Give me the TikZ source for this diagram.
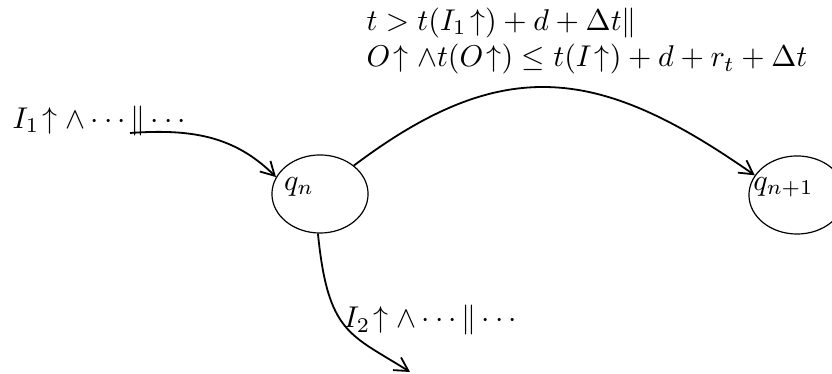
\documentclass[tikz,border=0pt]{standalone}
\usepackage{amsmath,amssymb}
\usetikzlibrary{arrows.meta,positioning,shapes.geometric}
\tikzset{state/.style={draw=black,ellipse,minimum width=32pt,minimum height=26pt,inner sep=0pt},trans/.style={-{Straight Barb[length=4.5pt,width=5pt]},semithick},lab/.style={font=\normalsize,inner sep=0pt,align=left}}

\begin{document}
\begin{tikzpicture}[x=0.333pt,y=0.333pt]
\useasboundingbox (0,0) rectangle (832,374);
\node[state,label={[xshift=-7pt,yshift=2.5pt]center:$q_n$}] (qn) at (320,180) {};
\node[state,label={[xshift=-4.5pt,yshift=2.5pt]center:$q_{n+1}$}] (qnn) at (797,179) {};
\node[lab,anchor=west] (guard) at (366,333) {$t>t(I_1\!\uparrow)+d+\Delta t\|$\\$O\!\uparrow\wedge t(O\!\uparrow)\le t(I\!\uparrow)+d+r_t+\Delta t$};
\node[lab,anchor=west] (in1) at (12,253) {$I_1\!\uparrow\wedge\cdots\|\cdots$};
\node[lab,anchor=west] (in2) at (343,54) {$I_2\!\uparrow\wedge\cdots\|\cdots$};
\coordinate (s1) at (130,241);
\coordinate (e3) at (410,2);
\draw[trans] (s1) to[out=4,in=135] (qn.159);
\draw[trans] (qn.40) to[out=37,in=145,looseness=1.2] (qnn.155);
\draw[trans] (qn.267) .. controls (328,40) and (350,40) .. (e3);
\end{tikzpicture}
\end{document}
